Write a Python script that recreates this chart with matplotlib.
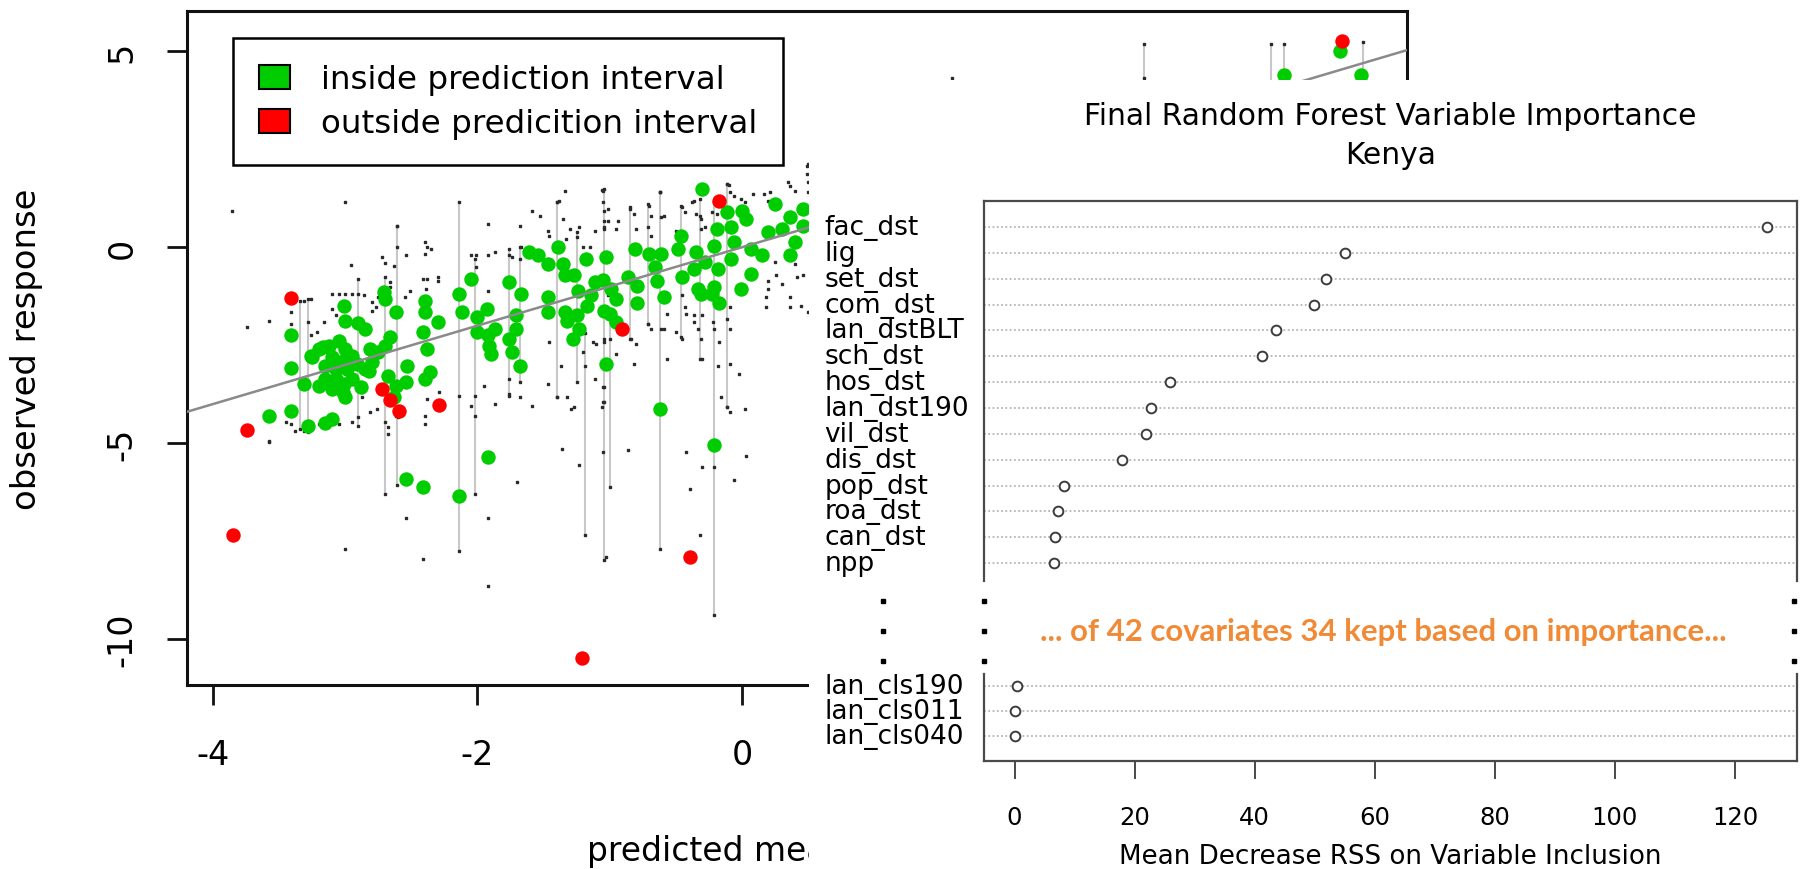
import matplotlib
matplotlib.use("Agg")
import matplotlib.pyplot as plt
import matplotlib.transforms as mtransforms
from matplotlib.patches import Patch
from matplotlib.lines import Line2D

W, H, DPI = 1804, 870, 100

# ------------------------------------------------------------------
# Left chart data: observed response vs predicted mean
# ------------------------------------------------------------------
inside_pred = [-3.41, -3.41, -3.41, -3.58, -3.28, -3.15, -3.10, -3.31, -3.26, -3.17,
               -3.01, -3.00, -2.90, -2.85, -2.71, -2.70, -2.62, -2.66, -2.70, -2.75,
               -2.80, -2.82, -2.68, -2.63, -2.62, -3.20, -3.12, -3.05, -3.00, -3.10,
               -3.02, -2.95, -3.15, -3.07, -2.99, -2.91, -3.15, -3.07, -3.01, -2.95,
               -3.20, -3.10, -3.02, -3.00, -2.88, -3.25, -2.85, -2.81, -2.53, -2.54,
               -2.40, -2.40, -2.41, -2.38, -2.30, -2.36, -2.40, -2.14, -2.12, -2.05,
               -2.00, -1.93, -2.00, -1.92, -1.87, -1.91, -1.90, -1.76, -1.67, -1.71,
               -1.71, -1.76, -1.74, -1.68, -1.61, -1.54, -1.47, -1.39, -1.35, -1.34,
               -1.27, -1.24, -1.47, -1.47, -1.34, -1.32, -1.25, -1.23, -1.28, -1.18,
               -1.17, -1.11, -1.14, -1.05, -1.04, -1.03, -1.03, -0.30, 0.25, 0.46,
               -0.81, -0.70, -0.61, -0.46, -0.48, -0.35, -0.28, -0.19, -0.21, -0.11,
               0.00, 0.03, -0.08, -0.06, -0.08, 0.07, 0.15, 0.20, 0.30, 0.36,
               0.40, 0.46, 0.36, -0.86, -0.79, -0.66, -0.64, -0.45, -0.36, -0.33,
               -0.18, -0.21, 0.07, -0.01, -0.99, -0.95, -1.00, -0.95, -0.79, -0.59,
               -0.31, -0.23, -0.17, -0.62, -0.21, -2.54, -2.41, -2.14, -1.92, 4.52,
               4.10, 4.68]
inside_obs = [-2.25, -3.09, -4.17, -4.30, -4.55, -4.48, -4.38, -3.49, -2.78, -2.55,
              -1.49, -1.87, -1.93, -2.08, -1.15, -1.32, -1.66, -2.30, -2.51, -2.68,
              -2.93, -3.15, -3.28, -3.83, -3.53, -2.59, -2.51, -2.38, -2.59, -2.81,
              -2.89, -2.78, -3.02, -3.10, -3.10, -2.98, -3.36, -3.36, -3.49, -3.36,
              -3.53, -3.61, -3.70, -3.83, -3.57, -2.81, -3.10, -2.59, -3.02, -3.44,
              -1.36, -1.66, -2.17, -2.59, -1.91, -3.19, -3.36, -1.19, -1.66, -0.81,
              -1.79, -1.57, -2.17, -2.25, -2.08, -2.51, -2.72, -0.89, -1.19, -1.74,
              -2.08, -2.34, -2.68, -3.02, -0.13, -0.21, -0.43, 0.00, -0.43, -0.72,
              -0.72, -1.11, -1.28, -1.66, -1.66, -1.87, -1.74, -2.08, -2.34, -0.30,
              -1.49, -0.89, -1.23, -0.83, -1.62, -0.25, -2.98, 1.49, 1.10, 0.98,
              -0.04, -0.17, -0.17, 0.30, -0.04, -0.13, -0.38, 0.47, 0.04, 0.89,
              0.93, 0.72, 0.51, 0.13, -0.30, -0.04, -0.21, 0.38, 0.47, 0.77,
              0.13, 0.55, -0.21, -0.77, -0.98, -0.51, -0.85, -0.77, -0.55, -1.06,
              -0.55, -1.02, -0.68, -1.06, -1.06, -1.32, -1.70, -1.91, -1.43, -1.28,
              -1.19, -1.19, -1.43, -4.13, -5.05, -5.91, -6.11, -6.34, -5.36, 5.00,
              4.39, 4.39]

outside_pred = [-3.41, -3.74, -3.85, -2.72, -2.66, -2.59, -2.29, -0.17, -0.91, -1.21,
                -0.39, 4.54]
outside_obs = [-1.30, -4.65, -7.33, -3.62, -3.90, -4.19, -4.02, 1.19, -2.08, -10.48,
               -7.91, 5.25]

interval_pred = [-3.34, -3.28, -2.90, -2.70, -2.61, -2.14, -2.02, -1.76, -1.68, -1.40,
                 -1.25, -1.19, -1.04, -1.00, -0.85, -0.71, -0.62, -0.46, -0.32, -0.21,
                 -0.11, 3.04, 4.00, 4.10, 4.70]
interval_lo = [-4.64, -4.72, -4.55, -6.29, -6.06, -7.76, -6.29, -3.79, -3.44, -3.83,
               -3.44, -7.33, -7.99, -6.11, -2.34, -1.96, -7.70, -2.30, -2.85, -9.37,
               -4.08, 3.60, 3.40, 3.50, 3.80]
interval_hi = [-1.36, -1.32, -0.81, -0.77, 0.55, 1.16, -0.30, -0.04, 0.00, 1.15,
               0.38, -2.20, 1.49, -1.70, 1.02, 1.10, 1.40, 1.06, 1.23, 1.15,
               1.61, 5.18, 5.18, 5.18, 5.23]

quant_pred = [-3.58, -3.00, -2.54, -2.41, -1.92, -1.92, -1.70, -1.36, -1.23, -1.05,
              -0.86, -0.42, -0.39, -0.32, -0.30, -0.21, -0.06, 0.03, -1.03,
              -3.86, -3.00, -2.96, -2.72, -2.70, -2.63, -2.61, -2.61,
              -3.74, -3.58, -3.41, -3.41, -3.31, -3.26, -3.28, -3.21, -3.10, -3.05,
              -3.00, -2.95, -3.10, -3.07, -2.90, -2.86, -2.80, -2.75, -2.66, -2.66,
              -3.45, -3.41, -3.38, -3.31, -3.20, -3.05, -2.95, -2.90, -2.87, -2.87,
              -2.81, -2.76, -2.70, -2.68, -2.68, -2.62, -2.60, -3.58, -3.16, -3.26,
              -2.80, -2.77,
              -2.54, -2.51, -2.55, -2.40, -2.38, -2.35, -2.40, -2.41, -2.38, -2.30,
              -2.39, -2.05, -2.01, -1.92, -1.87, -2.01, -1.92, -1.92, -1.68, -1.76,
              -1.67, -1.59, -1.53, -1.47, -1.46, -1.40, -1.34, -1.35, -1.33, -1.30,
              -1.25, -1.23, -1.20, -1.15, -1.11, -1.04, -1.04, -1.04, -1.05, -1.05,
              -1.46, -1.37, -1.32, -1.27, -1.20, -1.19, -1.13, -1.11, -1.04, -1.05,
              -1.05, -1.47, -1.40, -1.76, -1.76, -1.68, -1.95, -1.87, -2.02, -2.02,
              -2.14, -2.05, -2.40, -2.40, -2.38, -2.29, -1.59, -1.29, -2.30, -1.68,
              -1.74,
              -1.01, -1.01, -1.04, -0.94, -0.95, -0.85, -0.82, -0.80, -0.70, -0.69,
              -0.71, -0.69, -0.62, -0.61, -0.59, -0.50, -0.45, -0.43, -0.38, -0.36,
              -0.35, -0.32, -0.31, -0.31, -0.28, -0.23, -0.19, -0.11, -0.09, -0.06,
              -0.01, 0.02, 0.08, 0.17, 0.21, 0.20, 0.35, 0.36, 0.40, 0.49,
              0.49, 0.50, 0.50, -1.04, -1.01, 0.25, 0.26, 0.20, 0.20, 0.30,
              0.40, 0.42, 0.46,
              -1.04, -1.00, -0.95, -1.10, -1.04, -1.04, -1.06, -0.84, -0.80, -0.82,
              -0.71, -0.69, -0.61, -0.59, -0.57, -0.57, -0.50, -0.45, -0.36, -0.33,
              -0.31, -0.30, -0.36, -0.30, -0.22, -0.21, -0.17, -0.18, -0.09, -0.11,
              -0.09, -0.09, -0.02, -0.16, -0.11, -0.09, 0.02, 0.18, 0.18, 0.36,
              0.36, 0.45, 0.50, -0.45, -0.43, -0.42,
              -1.38, -1.06, -0.62, -0.10, 0.50, 1.59, 3.04]
quant_val = [-4.93, -7.70, -6.91, -7.95, -6.91, -8.63, -5.98, -5.15, -5.55, -5.23,
             -5.17, -5.23, -6.17, -7.33, -5.61, -5.61, -5.93, -5.32, -7.89,
             0.92, 1.16, -0.44, -0.26, -0.40, -0.48, 0.55, 0.00,
             -2.04, -1.87, -1.66, -1.96, -1.36, -1.32, -1.91, -2.17, -1.19, -1.19,
             -1.19, -1.19, -1.57, -1.74, -1.19, -1.23, -1.40, -1.28, -0.89, -1.02,
             -4.46, -4.51, -4.68, -4.68, -4.51, -4.51, -4.46, -4.34, -3.70, -3.83,
             -4.21, -4.13, -4.46, -4.59, -4.76, -4.30, -4.34, -4.96, -1.91, -2.25,
             -1.62, -1.53,
             -0.21, -1.11, -1.28, 0.13, 0.00, -0.04, -0.17, -0.81, -0.81, -0.85,
             -1.06, -0.21, -0.21, -0.21, -0.13, -0.51, 0.59, -1.11, 0.55, -0.21,
             0.00, 0.93, 0.81, 0.42, 0.30, 1.15, 1.44, 0.72, 0.21, 0.47,
             0.26, 0.51, 0.00, 0.00, 0.42, 0.93, 0.68, 0.51, 1.44, 1.15,
             -2.42, -3.02, -3.83, -4.08, -2.68, -3.02, -2.42, -3.36, -2.42, -3.57,
             -3.95, -3.49, -3.83, -3.36, -3.74, -3.83, -3.53, -4.00, -3.79, -4.30,
             -3.79, -4.04, -4.30, -4.51, -3.87, -3.70, -4.04, -4.13, -0.77, -0.30,
             -0.26,
             0.98, 0.68, 0.47, 0.68, 0.47, 0.98, 0.85, 0.47, 1.06, 0.81,
             0.51, 0.28, 1.40, 0.77, 0.81, 0.42, 1.02, 0.89, 1.15, 1.19,
             0.85, 0.81, 0.72, 0.47, 0.51, 0.89, 0.85, 1.61, 1.40, 1.32,
             1.23, 1.15, 1.36, 1.36, 1.40, 1.19, 1.66, 1.57, 1.44, 2.08,
             1.87, 1.66, 1.40, -0.94, -1.23, -0.38, -0.72, -0.85, -1.06, -0.94,
             -0.43, -0.77, -0.72,
             -2.34, -2.34, -2.72, -2.47, -3.57, -3.95, -4.08, -2.34, -2.47, -2.98,
             -1.96, -2.08, -2.08, -2.08, -1.70, -2.85, -2.17, -2.34, -1.91, -2.08,
             -2.34, -2.85, -1.74, -1.74, -1.91, -2.08, -2.42, -3.02, -1.53, -1.83,
             -2.08, -2.98, -3.23, -3.83, -4.08, -4.21, -4.13, -1.53, -1.28, -1.53,
             -1.28, -1.49, -1.66, -1.23, -1.53, -1.70,
             1.19, 1.47, 1.42, 1.59, 2.12, 4.31, 4.31]

left_xticks = [-4, -2, 0, 2, 4]
left_yticks = [5, 0, -5, -10]
legend_labels = ["inside prediction interval", "outside predicition interval"]

# ------------------------------------------------------------------
# Right chart data: random forest variable importance (Kenya)
# ------------------------------------------------------------------
top_vars = ["fac_dst", "lig", "set_dst", "com_dst", "lan_dstBLT", "sch_dst", "hos_dst",
            "lan_dst190", "vil_dst", "dis_dst", "pop_dst", "roa_dst", "can_dst", "npp"]
top_importance = [125.4, 55.0, 51.8, 49.9, 43.5, 41.2, 25.9, 22.7, 21.9, 17.9,
                  8.2, 7.3, 6.7, 6.6]
bottom_vars = ["lan_cls190", "lan_cls011", "lan_cls040"]
bottom_importance = [0.4, 0.1, 0.1]
imp_ticks = [0, 20, 40, 60, 80, 100, 120]

GREEN = "#00CD00"
RED = "#FF0000"


def fx(px):
    return px / W


def fy(py):
    return 1 - py / H


fig = plt.figure(figsize=(W / DPI, H / DPI), dpi=DPI, facecolor="white")

# ------------------------------- left chart -------------------------
L, R_, T, B = 186.6, 1407.0, 12.3, 685.7
ax = fig.add_axes([fx(L), fy(B), (R_ - L) / W, (B - T) / H], zorder=0)
ax.set_xlim(-4.20, 5.03)
ax.set_ylim(-11.16, 6.02)

ax.vlines(interval_pred, interval_lo, interval_hi, color="#c8c8c8", lw=1.5, zorder=1)
ax.plot(interval_pred, interval_lo, ls="none", marker="s", ms=1.8, color="#2a2a2a", zorder=2)
ax.plot(interval_pred, interval_hi, ls="none", marker="s", ms=1.8, color="#2a2a2a", zorder=2)
ax.plot(quant_pred, quant_val, ls="none", marker="s", ms=1.8, color="#2a2a2a", zorder=2)
ax.scatter(inside_pred, inside_obs, s=108, color=GREEN, lw=0, zorder=3)
ax.scatter(outside_pred, outside_obs, s=108, color=RED, lw=0, zorder=3)
ax.axline((0, 0), slope=1, color="#8a8a8a", lw=1.8, zorder=4)

for s in ax.spines.values():
    s.set_linewidth(2.2)
    s.set_color("#111111")
ax.set_xticks(left_xticks)
ax.set_yticks(left_yticks)
ax.set_xticklabels([str(v) for v in left_xticks])
ax.set_yticklabels([str(v) for v in left_yticks])
ax.tick_params(axis="both", direction="out", length=14.5, width=2.0, color="#111111",
               labelsize=24)
ax.tick_params(axis="x", pad=24)
ax.tick_params(axis="y", pad=20, labelrotation=90)
for lab in ax.get_yticklabels():
    lab.set_va("center")

ax.set_ylabel("observed response", fontsize=24.4)
ax.yaxis.label.set_va("center")
ax.yaxis.set_label_coords((27 - L) / (R_ - L), 0.5)
ax.set_xlabel("predicted mean response", fontsize=23.7)
ax.xaxis.label.set_va("center")
ax.xaxis.set_label_coords(0.5, -(852 - B) / (B - T))

handles = [Patch(facecolor=GREEN, edgecolor="black", lw=1.5, label=legend_labels[0]),
           Patch(facecolor=RED, edgecolor="black", lw=1.5, label=legend_labels[1])]
leg = ax.legend(handles=handles, loc="upper left",
                bbox_to_anchor=((232.5 - L) / (R_ - L), (B - 39.3) / (B - T)),
                borderaxespad=0, frameon=True, fancybox=False, framealpha=1,
                edgecolor="black", fontsize=23.4, handlelength=0.98, handleheight=0.77,
                handletextpad=0.95, labelspacing=0.4, borderpad=0.8)
leg.get_frame().set_linewidth(1.8)
leg.set_zorder(10)

# ------------------------------- right panel (overlay) --------------
panel = fig.add_axes([fx(809), 0, 1 - fx(809), fy(81)], zorder=2)
panel.set_facecolor("white")
panel.set_xticks([])
panel.set_yticks([])
for s in panel.spines.values():
    s.set_visible(False)

BL, BR = 984.0, 1797.0
XL, XR = -5.08, 130.33
LAB_X = (824.3 - BL) / (BR - BL)
BOX_COL = "#4a4a4a"

ax1 = fig.add_axes([fx(BL), fy(582), (BR - BL) / W, (582 - 202) / H], zorder=3)
ax2 = fig.add_axes([fx(BL), fy(762), (BR - BL) / W, (762 - 675) / H], zorder=3)

for a, names, vals, ylim in ((ax1, top_vars, top_importance, (13.69, -1.006)),
                             (ax2, bottom_vars, bottom_importance, (3.0, -0.48))):
    a.set_facecolor("white")
    a.set_xlim(XL, XR)
    a.set_ylim(*ylim)
    rows = list(range(len(names)))
    for r in rows:
        a.axhline(r, color="#a8a8a8", lw=1.1, ls=(0, (1.2, 1.6)), zorder=1)
    a.plot(vals, rows, ls="none", marker="o", ms=7, mfc="white", mec="#3c3c3c",
           mew=1.4, zorder=3)
    tr = mtransforms.blended_transform_factory(a.transAxes, a.transData)
    for r, n in zip(rows, names):
        a.text(LAB_X, r, n, transform=tr, ha="left", va="center", fontsize=19,
               clip_on=False)
    a.set_yticks([])
    for s in a.spines.values():
        s.set_color(BOX_COL)
        s.set_linewidth(1.6)

ax1.spines["bottom"].set_visible(False)
ax1.set_xticks([])
ax2.spines["top"].set_visible(False)
ax2.set_xticks(imp_ticks)
ax2.set_xticklabels([str(v) for v in imp_ticks])
ax2.tick_params(axis="x", length=13, width=1.4, color=BOX_COL, labelsize=17.5, pad=19)

ax1.set_title("Final Random Forest Variable Importance\nKenya", fontsize=21.4,
              linespacing=1.46, pad=27)
ax2.set_xlabel("Mean Decrease RSS on Variable Inclusion", fontsize=18.8)
ax2.xaxis.label.set_va("center")
ax2.xaxis.set_label_coords(0.5, -(857 - 762) / (762 - 675))

# vertical ellipsis between the two parts of the dot chart
for xp in (883, 984, 1794):
    fig.add_artist(Line2D([fx(xp)] * 3, [fy(602), fy(632), fy(662)],
                          transform=fig.transFigure, ls="none", marker="s", ms=2.4,
                          color="black", zorder=6))

note = fig.text(fx(1383), fy(632), "... of 42 covariates 34 kept based on importance...",
                ha="center", va="center", color="#F08A36", fontweight="bold",
                family=["Lato", "DejaVu Sans"], fontsize=20, zorder=6)
fig.canvas.draw()
w = note.get_window_extent(fig.canvas.get_renderer()).width
note.set_fontsize(20 * 686 / w)

fig.savefig("out.png", dpi=DPI, facecolor="white")
